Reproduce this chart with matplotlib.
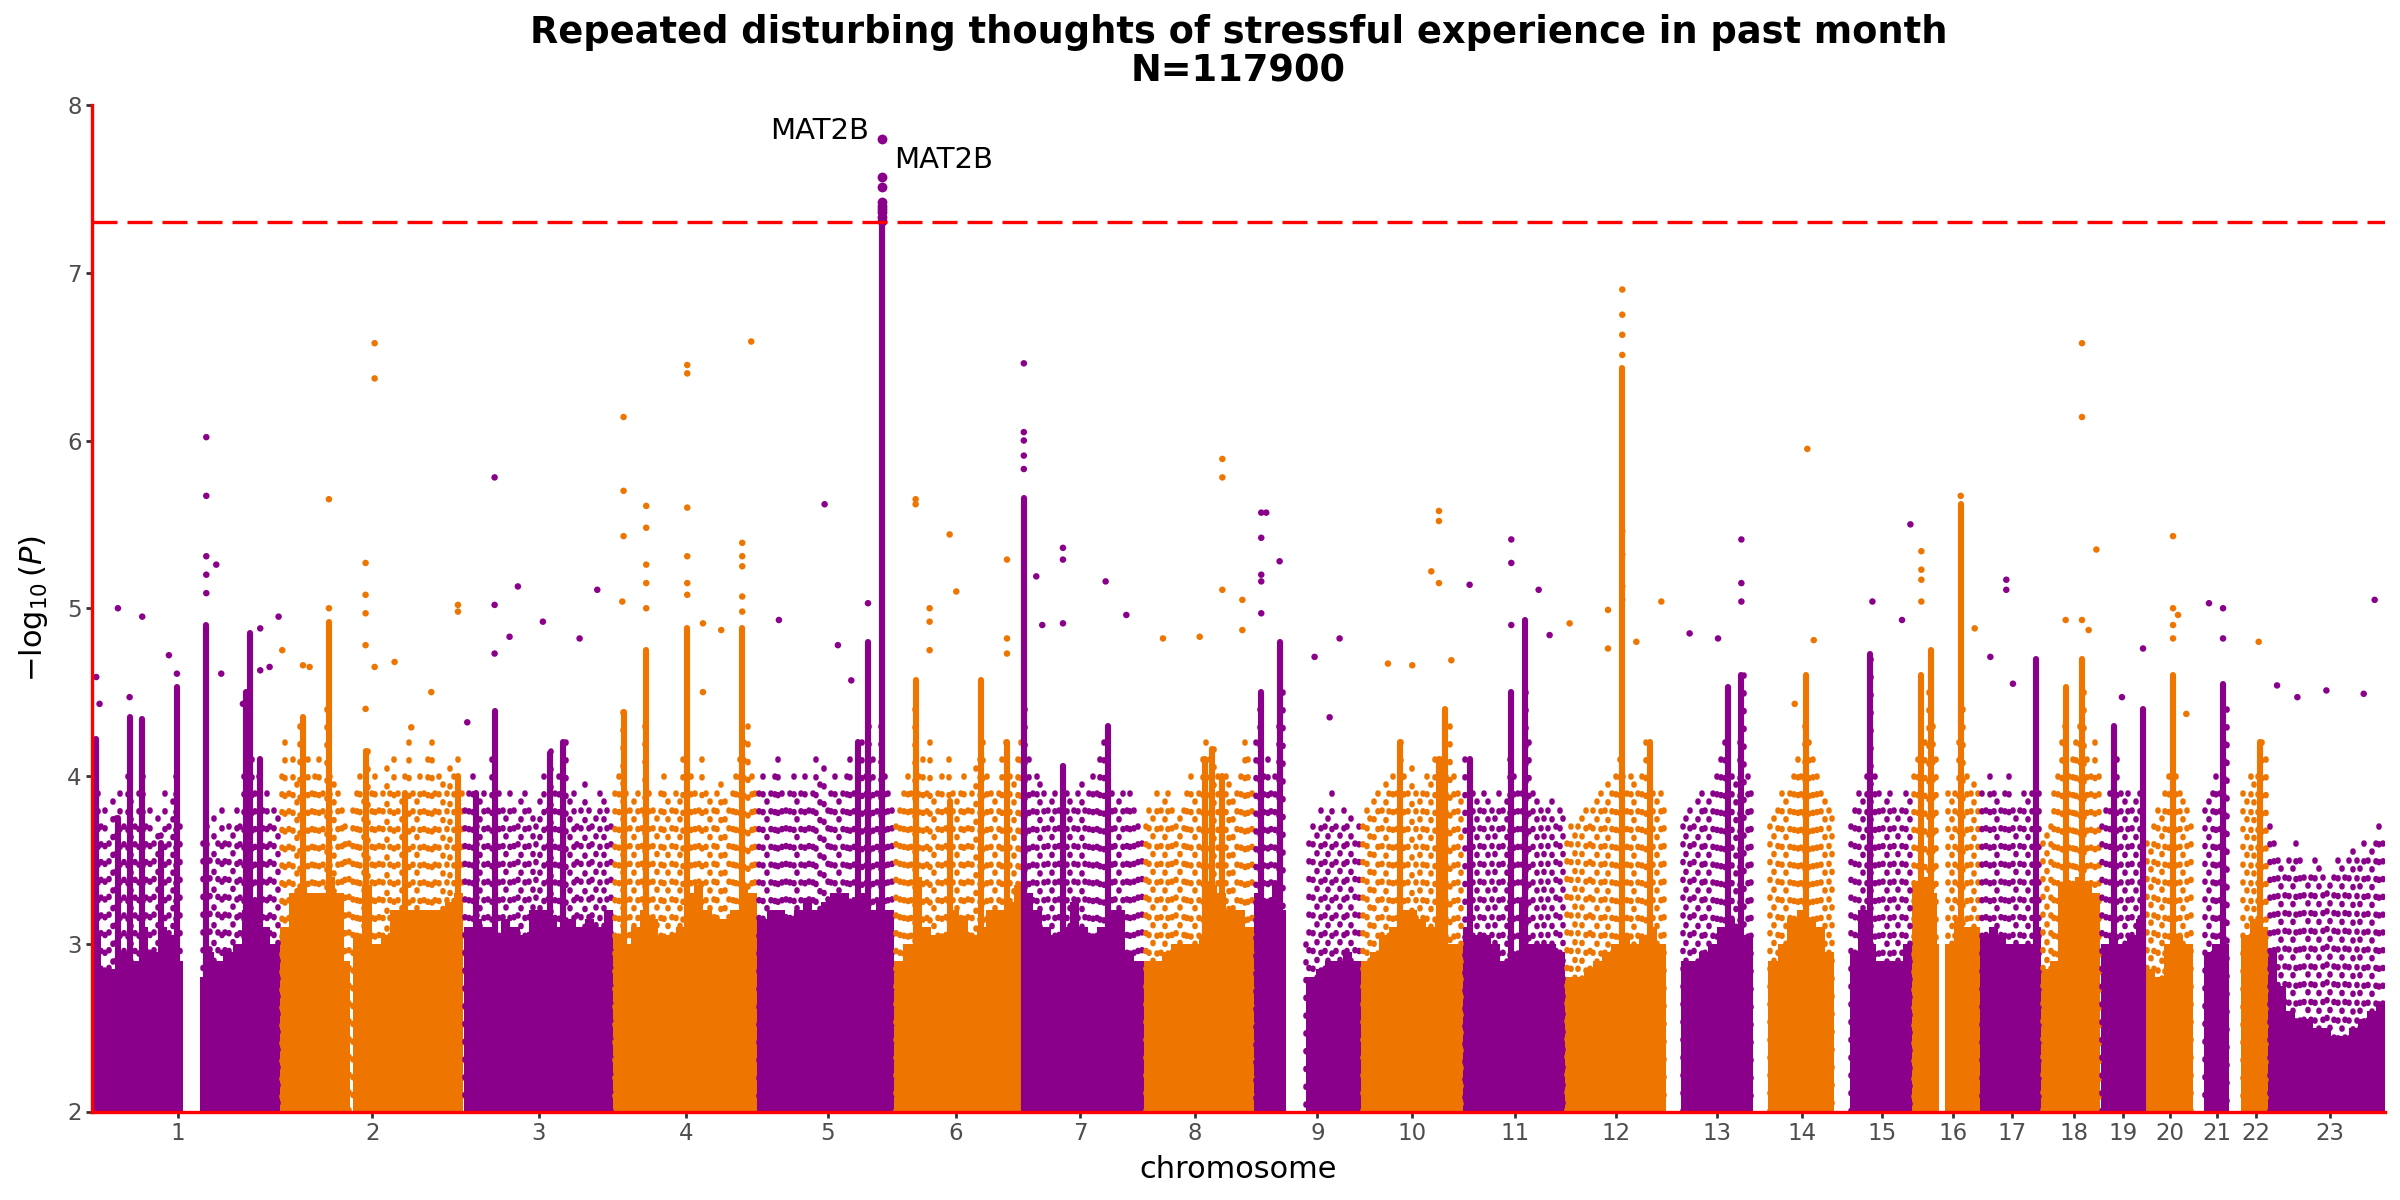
import matplotlib
matplotlib.use("Agg")
import matplotlib.pyplot as plt
import numpy as np

# ---------------- data ----------------
CHROM_LABELS = [str(i) for i in range(1, 24)]
CHR_LEN = [249.25, 243.2, 198.0, 191.15, 180.9, 171.1, 159.1, 146.4, 141.2, 135.5,
           135.0, 133.85, 115.2, 107.35, 102.5, 90.35, 81.2, 78.1, 59.1, 63.0,
           48.1, 51.3, 155.3]
SNP_START = [0.7, 0.01, 0.06, 0.07, 0.01, 0.2, 0.05, 0.16, 0.2, 0.1, 0.2, 0.15,
             19.0, 20.0, 20.0, 0.1, 0.05, 0.01, 0.2, 0.06, 14.5, 16.0, 0.5]
SNP_END = [249.2, 243.1, 197.9, 191.0, 180.9, 171.0, 159.1, 146.3, 141.1, 135.5,
           135.0, 133.8, 115.1, 107.3, 102.5, 90.2, 81.1, 78.0, 59.1, 62.9,
           48.1, 51.2, 155.2]
GAPS = {1: [(121.0, 144.0)], 2: [(92.5, 96.5)], 9: [(42.5, 68.0)], 16: [(36.0, 44.0)]}
TICK_MB = [114.5, 122.4, 99.5, 96.1, 93.2, 81.5, 75.4, 67.5, 83.7, 67.7, 69.1, 67.9,
           67.1, 64.4, 63.4, 54.5, 42.8, 43.2, 30.0, 32.6, 32.2, 35.3, 82.1]

# upper level of the saturated bulk of points (equal-width segments per chromosome)
BULK = {
    1: [3.05, 2.85, 2.85, 2.95, 2.9, 3.1, 2.95, 3.1, 3.05, 2.9, 2.8, 2.8, 2.95, 2.9,
        2.95, 3.0, 3.2, 3.25, 3.1, 3.0],
    2: [3.1, 3.3, 3.35, 3.3, 3.3, 3.4, 3.3, 2.9, 3.05, 3.35, 3.0, 3.05, 3.2,
        3.2, 3.2, 3.2, 3.2, 3.2, 3.25, 3.3],
    3: [3.1, 3.15, 3.1, 3.05, 3.15, 3.1, 3.05, 3.2, 3.2, 3.15, 3.1, 3.15, 3.1, 3.15,
        3.1, 3.2],
    4: [3.05, 3.0, 3.1, 3.2, 3.15, 3.05, 3.05, 3.1, 3.3, 3.35, 3.2, 3.15, 3.15, 3.2,
        3.35, 3.3],
    5: [3.15, 3.2, 3.2, 3.15, 3.2, 3.25, 3.2, 3.25, 3.3, 3.3, 3.25, 3.3, 3.2, 3.25, 3.2],
    6: [2.9, 3.0, 3.4, 3.1, 3.05, 3.05, 3.2, 3.15, 3.05, 3.1, 3.2, 3.2, 3.25, 3.35],
    7: [3.3, 3.2, 3.1, 3.05, 3.1, 3.25, 3.1, 3.05, 3.1, 3.2, 3.2, 2.95, 2.9],
    8: [2.9, 2.9, 2.95, 3.0, 3.0, 3.0, 3.05, 3.35, 3.3, 3.2, 3.2, 3.1],
    9: [3.3, 3.25, 3.35, 3.2, 2.8, 2.8, 2.8, 2.85, 2.9, 2.9, 2.95, 2.9],
    10: [2.9, 2.95, 3.05, 3.1, 3.2, 3.2, 3.15, 3.1, 3.15, 3.0, 3.0],
    11: [3.1, 3.05, 3.05, 3.0, 2.9, 2.95, 3.25, 3.0, 3.0, 3.0, 2.95],
    12: [2.8, 2.8, 2.85, 2.9, 2.95, 3.0, 3.05, 3.0, 3.05, 3.1, 3.0],
    13: [2.9, 2.9, 2.95, 3.0, 3.1, 3.15, 3.1, 3.05],
    14: [2.9, 3.0, 3.15, 3.2, 3.15, 3.1, 2.95],
    15: [2.95, 3.2, 3.0, 2.9, 2.9, 2.9, 3.0],
    16: [3.35, 3.4, 3.3, 3.0, 3.0, 3.15, 3.1, 3.1],
    17: [3.05, 3.1, 3.05, 3.0, 3.0, 3.0, 3.1],
    18: [2.85, 2.9, 3.35, 3.35, 3.4, 3.35, 3.3],
    19: [3.0, 3.05, 3.0, 3.05, 3.15],
    20: [2.85, 2.8, 3.0, 3.05, 3.0],
    21: [2.95, 3.0, 3.0],
    22: [3.05, 3.15, 3.1],
    23: [2.95, 2.75, 2.6, 2.55, 2.55, 2.5, 2.5, 2.45, 2.45, 2.5, 2.55, 2.6, 2.65],
}

# highest point in each ~5 Mb window of the scattered fringe above the bulk
FRINGE = {
    1: [4.2, 3.9, 3.7, 3.8, 3.6, 3.85, 3.75, 3.9, 3.7, 4.0, 3.85, 3.7, 3.9, 4.0, 3.7,
        3.8, 3.6, 3.75, 3.65, 3.9, 3.7, 3.85, 4.0, 3.7, 3.0, 3.0, 3.0, 3.0, 3.0, 3.6,
        3.7, 3.5, 3.75, 3.6, 3.8, 3.6, 3.7, 3.65, 3.8, 3.7, 4.0, 4.2, 4.1, 3.9, 4.0,
        3.8, 3.9, 3.7, 3.8, 3.75],
    2: [4.0, 4.2, 3.9, 4.1, 3.95, 4.3, 4.0, 4.1, 3.9, 4.0, 4.1, 3.9, 4.4, 4.0, 3.95,
        3.9, 3.8, 3.7, 3.6, 3.8, 3.9, 4.0, 3.85, 4.15, 3.9, 4.0, 3.8, 3.9, 4.05, 3.9,
        4.1, 3.9, 3.85, 4.0, 4.2, 3.9, 3.85, 4.0, 3.9, 4.1, 4.2, 3.9, 4.0, 3.95, 3.9,
        4.05, 4.0, 4.1, 3.9],
    3: [3.8, 3.9, 4.0, 3.7, 3.85, 3.9, 3.8, 4.1, 4.2, 3.9, 3.8, 3.75, 3.9, 3.8, 3.7,
        3.85, 3.9, 3.8, 3.75, 3.7, 3.85, 4.0, 3.8, 4.15, 3.9, 4.0, 3.8, 4.2, 3.85, 3.9,
        3.7, 3.8, 3.95, 3.8, 3.7, 3.75, 3.9, 3.85, 3.8, 3.7],
    4: [3.9, 4.0, 4.38, 3.9, 3.8, 3.85, 3.9, 3.8, 4.3, 3.9, 3.8, 3.75, 3.9, 4.0, 3.85,
        3.8, 3.9, 3.85, 4.1, 4.2, 4.0, 3.9, 3.8, 4.1, 3.9, 3.85, 3.8, 3.9, 3.95, 3.85,
        3.8, 3.9, 4.0, 4.1, 4.2, 4.3, 4.0, 3.9],
    5: [3.9, 4.0, 3.85, 3.9, 4.0, 4.1, 3.9, 3.8, 3.9, 4.0, 3.85, 3.9, 4.0, 3.8, 3.9,
        4.1, 3.95, 4.05, 3.8, 3.9, 4.0, 3.85, 3.9, 4.0, 4.1, 3.9, 3.85, 4.2, 4.0, 4.3,
        4.1, 3.9, 4.3, 4.0, 3.9, 3.8],
    6: [3.7, 3.8, 3.9, 4.0, 3.9, 4.4, 4.0, 4.1, 3.9, 4.2, 3.85, 3.9, 4.0, 3.8, 4.1,
        3.9, 3.85, 3.9, 4.0, 3.8, 3.9, 4.05, 4.1, 4.2, 4.0, 3.9, 3.85, 3.9, 4.1, 4.2,
        4.0, 3.95, 4.1, 4.2],
    7: [4.4, 4.1, 3.9, 4.0, 3.95, 3.9, 3.8, 3.85, 3.9, 3.8, 4.06, 3.9, 3.85, 3.8, 3.9,
        3.95, 3.8, 3.9, 4.0, 3.9, 4.1, 4.2, 4.0, 3.9, 3.8, 3.85, 3.9, 3.8, 3.9, 3.8,
        3.7, 3.6],
    8: [3.7, 3.8, 3.75, 3.9, 3.8, 3.85, 3.9, 3.8, 3.7, 3.75, 3.8, 3.9, 4.0, 3.85, 3.9,
        4.1, 4.2, 4.1, 4.16, 4.0, 3.9, 4.0, 3.95, 3.85, 3.9, 4.0, 4.2, 4.1, 3.9],
    9: [4.2, 4.4, 4.0, 4.1, 3.9, 4.0, 4.3, 4.5, 3.0, 3.0, 3.0, 3.0, 3.0, 3.0, 3.6,
        3.7, 3.65, 3.8, 3.7, 3.75, 3.9, 3.7, 3.65, 3.8, 3.7, 3.75, 3.6, 3.7],
    10: [3.7, 3.8, 3.75, 3.85, 3.9, 3.8, 3.95, 3.9, 4.0, 3.9, 4.2, 4.0, 3.9, 4.05, 3.9,
         3.85, 3.9, 4.0, 3.95, 4.1, 4.0, 4.1, 4.0, 4.3, 4.0, 3.9, 3.85],
    11: [4.1, 4.0, 3.9, 3.85, 3.8, 3.9, 3.85, 3.8, 3.75, 3.9, 3.8, 3.85, 4.1, 4.0, 3.9,
         3.9, 4.5, 4.2, 3.9, 3.85, 3.8, 3.75, 3.8, 3.85, 3.7, 3.8, 3.75],
    12: [3.6, 3.7, 3.65, 3.7, 3.75, 3.8, 3.7, 3.8, 3.85, 3.9, 3.8, 3.95, 3.9, 4.0, 4.1,
         4.0, 3.9, 4.0, 3.95, 3.9, 4.0, 4.2, 4.0, 3.9, 3.85, 3.9, 3.8],
    13: [3.7, 3.75, 3.8, 3.7, 3.85, 3.9, 3.8, 3.85, 3.9, 4.0, 4.1, 4.2, 4.5, 4.0, 3.95,
         4.2, 4.6, 4.0, 3.9],
    14: [3.7, 3.75, 3.8, 3.9, 3.85, 3.9, 4.0, 4.1, 4.0, 4.3, 4.2, 4.1, 4.0, 3.9, 3.85,
         3.8, 3.75],
    15: [3.7, 3.8, 3.9, 3.85, 4.0, 4.7, 4.0, 3.9, 3.8, 3.85, 3.9, 3.8, 3.75, 3.8, 3.9,
         3.85],
    16: [4.0, 4.1, 4.3, 4.2, 4.5, 4.3, 4.1, 3.0, 3.0, 3.9, 3.85, 3.9, 4.2, 4.4, 4.0,
         3.9, 3.95, 3.9],
    17: [3.9, 3.8, 4.0, 3.9, 3.85, 3.8, 3.9, 4.0, 3.8, 3.75, 3.8, 3.9, 3.85, 3.9, 4.1,
         3.9],
    18: [3.6, 3.65, 3.7, 3.9, 4.0, 4.2, 4.3, 4.0, 4.1, 4.2, 4.3, 4.5, 4.1, 4.0, 4.2,
         4.0],
    19: [3.7, 3.8, 3.9, 4.0, 4.1, 3.9, 3.85, 3.9, 3.8, 3.85, 3.9, 4.2],
    20: [3.6, 3.55, 3.7, 3.8, 3.75, 3.9, 4.0, 4.2, 4.0, 3.9, 3.85, 3.8, 3.7],
    21: [3.8, 3.85, 3.9, 4.0, 3.9, 4.2, 4.4],
    22: [3.9, 3.85, 4.0, 3.95, 4.0, 4.2, 4.1],
    23: [3.7, 3.6, 3.5, 3.45, 3.4, 3.5, 3.45, 3.6, 3.5, 3.4, 3.35, 3.4, 3.5, 3.45, 3.4,
         3.3, 3.35, 3.4, 3.5, 3.45, 3.4, 3.5, 3.55, 3.5, 3.45, 3.6, 3.5, 3.55, 3.6, 3.7,
         3.6],
}

# columns of closely stacked points: (chromosome, position Mb, top -log10 P)
STICKS = [
    (1, 6.3, 4.22), (1, 35.0, 3.75), (1, 50.5, 4.35), (1, 67.2, 4.34), (1, 92.4, 3.6),
    (1, 113.1, 4.53), (1, 152.0, 4.9), (1, 205.0, 4.5), (1, 209.3, 4.85), (1, 223.4, 4.1),
    (2, 30.7, 4.35), (2, 65.1, 4.92), (2, 113.6, 4.15), (2, 165.3, 3.9), (2, 235.9, 4.0),
    (3, 17.0, 3.9), (3, 41.2, 4.39), (3, 114.0, 4.14), (3, 131.6, 4.2),
    (4, 13.9, 4.38), (4, 43.9, 4.75), (4, 98.2, 4.88), (4, 171.0, 4.88),
    (5, 133.0, 4.2), (5, 146.3, 4.8), (5, 164.8, 7.38),
    (6, 28.5, 4.57), (6, 73.5, 3.85), (6, 115.4, 4.57), (6, 149.4, 4.2),
    (7, 0.6, 5.66), (7, 52.4, 4.06), (7, 112.0, 4.3),
    (8, 80.9, 4.1), (8, 91.0, 4.16), (8, 104.3, 4.0),
    (9, 9.4, 4.5), (9, 33.7, 4.8),
    (10, 51.4, 4.2), (10, 103.4, 4.1), (10, 111.0, 4.4),
    (11, 8.5, 4.1), (11, 63.7, 4.5), (11, 81.4, 4.93),
    (12, 75.6, 6.43), (12, 111.9, 4.2),
    (13, 81.7, 4.53), (13, 99.4, 4.6),
    (14, 70.2, 4.6),
    (15, 46.7, 4.73),
    (16, 12.6, 4.6), (16, 25.9, 4.75), (16, 64.7, 5.62),
    (17, 73.5, 4.7),
    (18, 32.1, 4.53), (18, 53.7, 4.7),
    (19, 18.0, 4.3), (19, 56.4, 4.4),
    (20, 37.0, 4.6),
    (21, 40.2, 4.55),
    (22, 40.6, 4.2),
]

# isolated points above the bulk: (chromosome, position Mb, -log10 P)
DOTS = [
    (1, 6.3, 4.59), (1, 10.7, 4.43), (1, 35.0, 5.0), (1, 50.5, 4.47), (1, 67.2, 4.95),
    (1, 102.5, 4.72), (1, 113.1, 4.61), (1, 152.0, 6.02), (1, 152.0, 5.67),
    (1, 152.0, 5.31), (1, 152.0, 5.2), (1, 152.0, 5.09), (1, 165.2, 5.26),
    (1, 171.8, 4.61), (1, 200.5, 4.43), (1, 223.4, 4.88), (1, 223.4, 4.63),
    (1, 235.8, 4.65), (1, 247.7, 4.95),
    (2, 3.3, 4.75), (2, 30.7, 4.66), (2, 39.5, 4.65), (2, 65.1, 5.65), (2, 65.1, 5.0),
    (2, 113.6, 5.27), (2, 113.6, 5.08), (2, 113.6, 4.97), (2, 113.6, 4.78),
    (2, 113.6, 4.4), (2, 125.6, 6.58), (2, 125.6, 6.37), (2, 125.6, 4.65),
    (2, 152.0, 4.68), (2, 174.1, 4.29), (2, 200.6, 4.5), (2, 235.9, 5.02),
    (2, 235.9, 4.98),
    (3, 5.0, 4.32), (3, 41.2, 5.78), (3, 41.2, 5.02), (3, 41.2, 4.73), (3, 61.0, 4.83),
    (3, 72.0, 5.13), (3, 105.1, 4.92), (3, 153.7, 4.82), (3, 177.1, 5.11),
    (4, 12.2, 5.04), (4, 13.9, 6.14), (4, 13.9, 5.7), (4, 13.9, 5.43),
    (4, 43.9, 5.61), (4, 43.9, 5.48), (4, 43.9, 5.26), (4, 43.9, 5.15), (4, 43.9, 5.0),
    (4, 98.2, 6.45), (4, 98.2, 6.4), (4, 98.2, 5.6), (4, 98.2, 5.31), (4, 98.2, 5.15),
    (4, 98.2, 5.08), (4, 119.0, 4.91), (4, 119.0, 4.5), (4, 143.2, 4.87),
    (4, 171.0, 5.39), (4, 171.0, 5.31), (4, 171.0, 5.25), (4, 171.0, 5.07),
    (4, 171.0, 4.98), (4, 182.9, 6.59),
    (5, 28.4, 4.93), (5, 88.9, 5.62), (5, 106.5, 4.78), (5, 124.2, 4.57),
    (5, 146.3, 5.03),
    (6, 28.5, 5.65), (6, 28.5, 5.62), (6, 47.0, 5.0), (6, 47.0, 4.92), (6, 47.0, 4.75),
    (6, 73.5, 5.44), (6, 82.3, 5.1), (6, 149.4, 5.29), (6, 149.4, 4.82),
    (6, 149.4, 4.73),
    (7, 0.6, 6.46), (7, 0.6, 6.05), (7, 0.6, 6.0), (7, 0.6, 5.91), (7, 0.6, 5.83),
    (7, 17.1, 5.19), (7, 25.0, 4.9), (7, 52.4, 5.36), (7, 52.4, 5.29), (7, 52.4, 4.91),
    (7, 108.9, 5.16), (7, 136.3, 4.96),
    (8, 25.7, 4.82), (8, 74.3, 4.83), (8, 104.3, 5.89), (8, 104.3, 5.78),
    (8, 104.3, 5.11), (8, 130.8, 5.05), (8, 130.8, 4.87),
    (9, 9.4, 5.57), (9, 9.4, 5.42), (9, 9.4, 5.2), (9, 9.4, 5.16), (9, 9.4, 4.97),
    (9, 16.0, 5.57), (9, 33.7, 5.28), (9, 80.0, 4.71), (9, 99.9, 4.35),
    (9, 113.1, 4.82),
    (10, 35.9, 4.67), (10, 68.1, 4.66), (10, 93.3, 5.22), (10, 103.4, 5.58),
    (10, 103.4, 5.52), (10, 103.4, 5.15), (10, 119.8, 4.69),
    (11, 8.5, 5.14), (11, 63.7, 5.41), (11, 63.7, 5.27), (11, 63.7, 4.9),
    (11, 99.9, 5.11), (11, 114.4, 4.84),
    (12, 5.9, 4.91), (12, 56.7, 4.99), (12, 56.7, 4.76), (12, 75.6, 6.9),
    (12, 75.6, 6.75), (12, 75.6, 6.63), (12, 75.6, 6.51), (12, 75.6, 5.46),
    (12, 75.6, 5.32), (12, 75.6, 5.13), (12, 75.6, 5.05), (12, 94.2, 4.8),
    (12, 127.3, 5.04),
    (13, 30.9, 4.85), (13, 68.5, 4.82), (13, 99.4, 5.41), (13, 99.4, 5.15),
    (13, 99.4, 5.04),
    (14, 54.8, 4.43), (14, 71.5, 5.95), (14, 80.0, 4.81),
    (15, 50.3, 5.04), (15, 89.5, 4.93), (15, 100.6, 5.5),
    (16, 12.6, 5.34), (16, 12.6, 5.23), (16, 12.6, 5.17), (16, 12.6, 5.04),
    (16, 64.7, 5.67), (16, 83.2, 4.88),
    (17, 13.6, 4.71), (17, 34.7, 5.17), (17, 34.7, 5.11), (17, 43.5, 4.55),
    (18, 32.1, 4.93), (18, 53.7, 6.58), (18, 53.7, 6.14), (18, 53.7, 4.93),
    (18, 62.5, 4.87), (18, 72.7, 5.35),
    (19, 28.5, 4.47), (19, 56.4, 4.76),
    (20, 37.0, 5.43), (20, 37.0, 5.0), (20, 37.0, 4.9), (20, 37.0, 4.82),
    (20, 43.6, 4.96), (20, 54.6, 4.37),
    (21, 21.6, 5.03), (21, 40.2, 5.0), (21, 40.2, 4.82),
    (22, 39.3, 4.8),
    (23, 12.3, 4.54), (23, 39.2, 4.47), (23, 77.6, 4.51), (23, 127.0, 4.49),
    (23, 141.5, 5.05),
]

# genome-wide significant hits (MAT2B locus, chr5)
SIG_CHR = 5
SIG_POS = 164.8
SIG_Y = [7.80, 7.57, 7.51, 7.42, 7.40, 7.38, 7.36, 7.33, 7.31]
HIT_LABELS = ["MAT2B", "MAT2B"]
HIT_Y = [7.80, 7.57]

THRESHOLD = 7.3
TITLE = "Repeated disturbing thoughts of stressful experience in past month"
SUBTITLE = "N=117900"

# ---------------- drawing ----------------
PURPLE = "#8B008B"
ORANGE = "#EE7600"


def chr_color(c):
    return PURPLE if c % 2 == 1 else ORANGE


def in_gap(c, p):
    return any(g0 <= p <= g1 for g0, g1 in GAPS.get(c, []))


offsets = np.concatenate([[0.0], np.cumsum(CHR_LEN)[:-1]])

fig = plt.figure(figsize=(24, 12), dpi=100)
ax = fig.add_axes([92 / 2400, 1 - 1111.5 / 1200, (2385 - 92) / 2400, (1111.5 - 105) / 1200])

YMIN, YMAX = 2.0, 8.0
DOT_LW = 4.0
DASH = (0.2, 3.0)

for c in range(1, 24):
    col = chr_color(c)
    s, e = SNP_START[c - 1], SNP_END[c - 1]

    # saturated bulk
    vals = BULK[c]
    edges = np.linspace(s, e, len(vals) + 1)
    lefts, widths, heights = [], [], []
    for i, v in enumerate(vals):
        pieces = [(edges[i], edges[i + 1])]
        for g0, g1 in GAPS.get(c, []):
            new = []
            for a, b in pieces:
                if b <= g0 or a >= g1:
                    new.append((a, b))
                else:
                    if a < g0:
                        new.append((a, g0))
                    if b > g1:
                        new.append((g1, b))
            pieces = new
        for a, b in pieces:
            lefts.append(offsets[c - 1] + a)
            widths.append(b - a)
            heights.append(v - YMIN)
    ax.bar(lefts, heights, width=widths, bottom=YMIN, align="edge",
           color=col, linewidth=0, zorder=2)

    # scattered fringe: dotted columns whose first dot sits at the window maximum
    fr = FRINGE[c]
    fedges = np.linspace(s, e, len(fr) + 1)
    fx = 0.5 * (fedges[:-1] + fedges[1:])
    xs = [offsets[c - 1] + fx[i] for i in range(len(fr)) if not in_gap(c, fx[i])]
    tops = [fr[i] for i in range(len(fr)) if not in_gap(c, fx[i])]
    if xs:
        # segments run from the top down so the dash pattern starts at the top point
        ax.vlines(xs, tops, YMIN, colors=col, linewidth=DOT_LW, capstyle="round",
                  linestyles=[(0, DASH)], zorder=2.5)

# columns
for c, p, top in STICKS:
    ax.vlines(offsets[c - 1] + p, YMIN, top, colors=chr_color(c), linewidth=4.4,
              capstyle="round", zorder=3)

# isolated points
dx = [offsets[c - 1] + p for c, p, y in DOTS]
dy = [y for c, p, y in DOTS]
dc = [chr_color(c) for c, p, y in DOTS]
ax.scatter(dx, dy, s=22, c=dc, linewidths=0, zorder=4)

# significant hits
sx = offsets[SIG_CHR - 1] + SIG_POS
ax.scatter([sx] * len(SIG_Y), SIG_Y, s=50, c=chr_color(SIG_CHR), linewidths=0, zorder=5)

ax.axhline(THRESHOLD, color="red", linewidth=2.4, dashes=(7.5, 3.0), zorder=6)

ax.annotate(HIT_LABELS[0], (sx, HIT_Y[0]), xytext=(-9, 0), textcoords="offset points",
            ha="right", va="baseline", fontsize=21, color="black", zorder=7)
ax.annotate(HIT_LABELS[1], (sx, HIT_Y[1]), xytext=(9, 12), textcoords="offset points",
            ha="left", va="center", fontsize=21, color="black", zorder=7)

ax.set_xlim(offsets[0] + SNP_START[0], offsets[-1] + SNP_END[-1])
ax.set_ylim(YMIN, YMAX)
ax.set_xticks([offsets[i] + TICK_MB[i] for i in range(23)])
ax.set_xticklabels(CHROM_LABELS)
ax.set_yticks([2, 3, 4, 5, 6, 7, 8])

for sp in ["top", "right"]:
    ax.spines[sp].set_visible(False)
for sp in ["left", "bottom"]:
    ax.spines[sp].set_color("red")
    ax.spines[sp].set_linewidth(2.4)
    ax.spines[sp].set_zorder(8)

ax.tick_params(axis="both", colors="#333333", labelcolor="#4D4D4D", labelsize=16.5,
               length=4.5, width=2.0, pad=3)

ax.set_xlabel("chromosome", fontsize=22, va="center")
ax.xaxis.set_label_coords(0.5, -0.058)
ax.set_ylabel(r"$-\log_{10}(P)$", fontsize=22, va="center")
ax.yaxis.set_label_coords(-0.0257, 0.5)

xc = (92 + 2385) / 2 / 2400
fig.text(xc, 1 - 43 / 1200, TITLE, ha="center", va="baseline", fontsize=26.5,
         fontweight="bold")
fig.text(xc, 1 - 81 / 1200, SUBTITLE, ha="center", va="baseline", fontsize=26.5,
         fontweight="bold")

fig.savefig("out.png", dpi=100)
